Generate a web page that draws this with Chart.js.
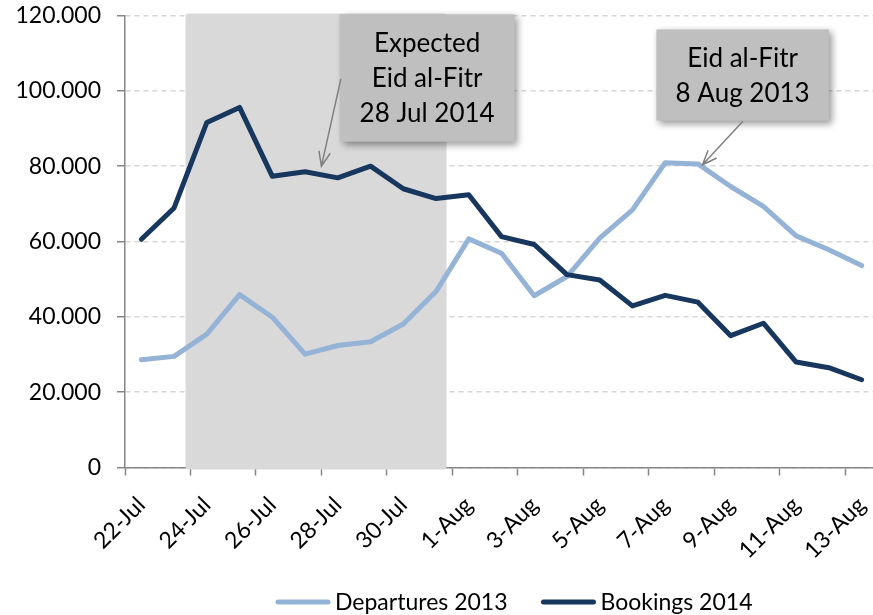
<!DOCTYPE html>
<html>
<head>
<meta charset="utf-8">
<script src="https://cdn.jsdelivr.net/npm/chart.js@4.4.1/dist/chart.umd.min.js"></script>
<style>
  html, body { margin: 0; padding: 0; background: #fff; overflow: hidden; }
  #wrap { width: 882px; height: 615px; }
</style>
</head>
<body>
<div id="wrap"><canvas id="myChart" width="882" height="615"></canvas></div>
<script>
// Daily values
const days = ['22-Jul', '23-Jul', '24-Jul', '25-Jul', '26-Jul', '27-Jul', '28-Jul', '29-Jul',
  '30-Jul', '31-Jul', '1-Aug', '2-Aug', '3-Aug', '4-Aug', '5-Aug', '6-Aug', '7-Aug', '8-Aug',
  '9-Aug', '10-Aug', '11-Aug', '12-Aug', '13-Aug'];

const departures2013 = [28600, 29500, 35400, 45900, 39900, 30100, 32400, 33400, 38100, 46700,
  60700, 56900, 45600, 50700, 60900, 68400, 80900, 80600, 74600, 69300, 61500, 57800, 53600];

const bookings2014 = [60600, 68900, 91600, 95600, 77300, 78500, 76900, 80000, 74000, 71400,
  72400, 61300, 59200, 51200, 49800, 42900, 45700, 43900, 35000, 38300, 28000, 26500, 23300];

const yMax = 120000;
const yStep = 20000;

// shaded Eid period (in category index units)
const shadeFrom = 1.35;
const shadeTo = 9.32;

const FONT = 'Lato, "Open Sans", sans-serif';

function fmt(v) {
  return String(v).replace(/\B(?=(\d{3})+(?!\d))/g, '.');
}

// notes: box corners and arrow tail/tip in (category index, value)
const notes = [
  { lines: ['Expected', 'Eid al-Fitr', '28 Jul 2014'], box: [6.055, 120300, 11.40, 86500],
    tail: [6.09, 103000], tip: [5.5, 80000] },
  { lines: ['Eid al-Fitr', '8 Aug 2013'], box: [15.73, 116300, 21.0, 92100],
    tail: [18.36, 91800], tip: [17.14, 80400] }
];

const shadePlugin = {
  id: 'shade',
  beforeDatasetsDraw(chart) {
    const { ctx, chartArea, scales: { x } } = chart;
    const x1 = x.getPixelForValue(shadeFrom);
    const x2 = x.getPixelForValue(shadeTo);
    ctx.save();
    ctx.fillStyle = '#d9d9d9';
    ctx.beginPath();
    ctx.roundRect(x1, chartArea.top - 2, x2 - x1, chartArea.bottom - chartArea.top + 4, 3);
    ctx.fill();
    ctx.restore();
  }
};

const notesPlugin = {
  id: 'notes',
  afterDatasetsDraw(chart) {
    const { ctx, scales: { x, y } } = chart;
    notes.forEach(n => {
      const bx1 = x.getPixelForValue(n.box[0]);
      const by1 = y.getPixelForValue(n.box[1]);
      const bx2 = x.getPixelForValue(n.box[2]);
      const by2 = y.getPixelForValue(n.box[3]);
      ctx.save();
      ctx.shadowColor = 'rgba(0,0,0,0.4)';
      ctx.shadowBlur = 7;
      ctx.shadowOffsetX = 3;
      ctx.shadowOffsetY = 3;
      ctx.fillStyle = '#bfbfbf';
      ctx.fillRect(bx1, by1, bx2 - bx1, by2 - by1);
      ctx.restore();

      ctx.save();
      ctx.fillStyle = '#000';
      ctx.font = '26px ' + FONT;
      ctx.textAlign = 'center';
      ctx.textBaseline = 'middle';
      const cx = (bx1 + bx2) / 2;
      const cy = (by1 + by2) / 2;
      const lh = 35;
      n.lines.forEach((t, i) => {
        ctx.fillText(t, cx, cy + (i - (n.lines.length - 1) / 2) * lh + 1);
      });
      ctx.restore();

      // arrow
      const tx = x.getPixelForValue(n.tail[0]);
      const ty = y.getPixelForValue(n.tail[1]);
      const px = x.getPixelForValue(n.tip[0]);
      const py = y.getPixelForValue(n.tip[1]);
      const ang = Math.atan2(py - ty, px - tx);
      const head = 15;
      const spread = 0.38;
      ctx.save();
      ctx.strokeStyle = '#808080';
      ctx.lineWidth = 1.5;
      ctx.lineCap = 'round';
      ctx.beginPath();
      ctx.moveTo(tx, ty);
      ctx.lineTo(px, py);
      ctx.moveTo(px - head * Math.cos(ang - spread), py - head * Math.sin(ang - spread));
      ctx.lineTo(px, py);
      ctx.lineTo(px - head * Math.cos(ang + spread), py - head * Math.sin(ang + spread));
      ctx.stroke();
      ctx.restore();
    });
  }
};

const legendPlugin = {
  id: 'lineLegend',
  afterDraw(chart) {
    const { ctx } = chart;
    const items = chart.data.datasets;
    let xPos = 276;
    const yPos = 602;
    ctx.save();
    ctx.font = '23px ' + FONT;
    ctx.textBaseline = 'middle';
    items.forEach(ds => {
      ctx.strokeStyle = ds.borderColor;
      ctx.lineWidth = 5;
      ctx.lineCap = 'round';
      ctx.beginPath();
      ctx.moveTo(xPos + 2, yPos);
      ctx.lineTo(xPos + 52, yPos);
      ctx.stroke();
      ctx.fillStyle = '#000';
      ctx.fillText(ds.label, xPos + 59, yPos + 1);
      xPos += 59 + ctx.measureText(ds.label).width + 34;
    });
    ctx.restore();
  }
};

const ctx = document.getElementById('myChart');
const myChart = new Chart(ctx, {
  type: 'line',
  data: {
    labels: days,
    datasets: [
      {
        label: 'Departures 2013',
        data: departures2013,
        borderColor: '#95b3d7',
        backgroundColor: '#95b3d7',
        borderWidth: 5,
        pointRadius: 0,
        borderJoinStyle: 'round',
        borderCapStyle: 'round',
        order: 1
      },
      {
        label: 'Bookings 2014',
        data: bookings2014,
        borderColor: '#17375e',
        backgroundColor: '#17375e',
        borderWidth: 5,
        pointRadius: 0,
        borderJoinStyle: 'round',
        borderCapStyle: 'round',
        order: 0
      }
    ]
  },
  options: {
    responsive: false,
    animation: false,
    layout: { padding: { top: 15.5, right: 4, left: 0, bottom: 0 } },
    scales: {
      x: {
        offset: true,
        grid: {
          offset: true,
          drawOnChartArea: false,
          drawTicks: true,
          tickLength: 8,
          tickWidth: 1.5,
          tickColor: c => (c.index % 2 === 0 ? '#868686' : 'rgba(0,0,0,0)')
        },
        border: { color: '#868686', width: 1.5 },
        ticks: {
          autoSkip: false,
          minRotation: 45,
          maxRotation: 45,
          padding: 16,
          color: '#000',
          font: { family: FONT, size: 23 },
          callback: (v, i) => (i % 2 === 0 ? days[i] : '')
        },
        afterFit: s => { s.height = 147.5; s.paddingLeft = 0; s.paddingRight = 0; s.paddingTop = 0; s.paddingBottom = 0; }
      },
      y: {
        min: 0,
        max: yMax,
        ticks: {
          stepSize: yStep,
          padding: 16,
          color: '#000',
          font: { family: FONT, size: 23 },
          callback: v => fmt(v)
        },
        grid: {
          color: '#d6d6d6',
          lineWidth: 1.5,
          tickColor: '#868686',
          tickLength: 8,
          tickWidth: 1.5,
          tickBorderDash: []
        },
        border: { color: '#868686', width: 1.5, dash: [5, 4] },
        afterFit: s => { s.width = 125; s.paddingTop = 0; s.paddingBottom = 0; }
      }
    },
    plugins: {
      legend: { display: false },
      tooltip: { enabled: false }
    }
  },
  plugins: [shadePlugin, notesPlugin, legendPlugin]
});
</script>
</body>
</html>
